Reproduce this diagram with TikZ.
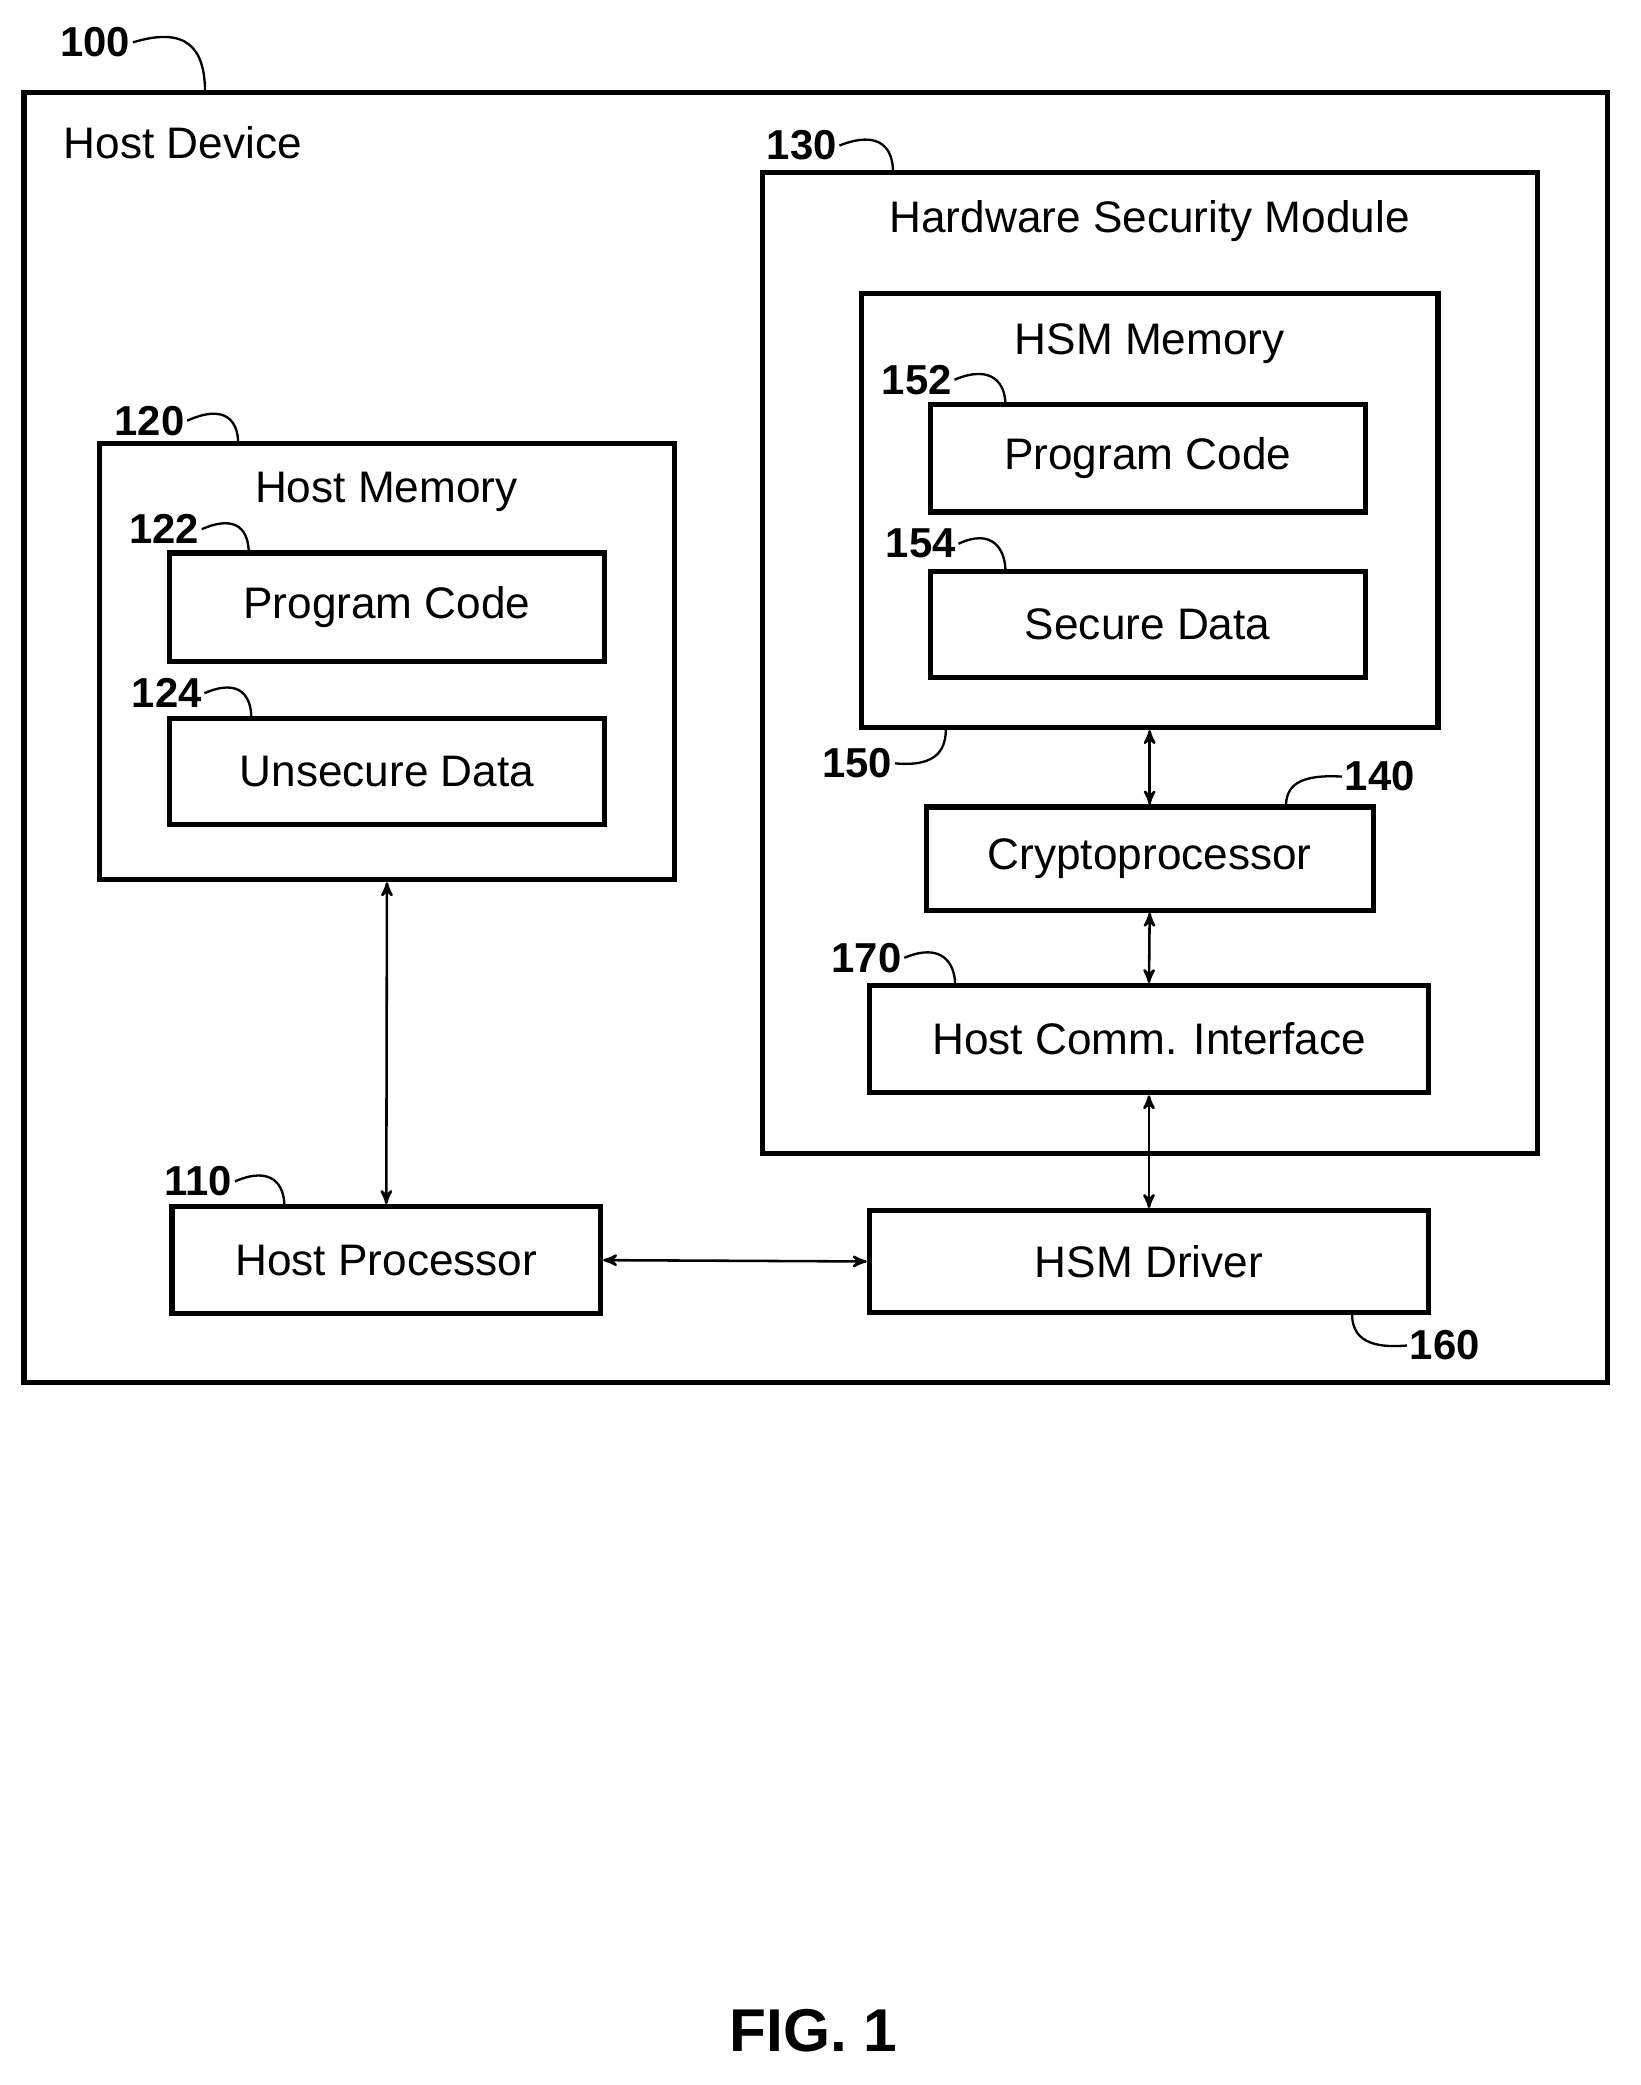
\documentclass[tikz,border=0pt]{standalone}
\usepackage{fontspec}
\setmainfont{Liberation Sans}
\usetikzlibrary{arrows}

\tikzset{
  box/.style={draw,line width=2.2pt,inner sep=0pt},
  txt/.style={font=\fontsize{19}{23}\selectfont},
  num/.style={font=\bfseries\fontsize{18}{22}\selectfont,inner sep=1pt},
  lead/.style={line width=1pt,-},
  link/.style={<->,>=stealth',line width=1.1pt}
}

\begin{document}
\begin{tikzpicture}[x=0.02cm,y=-0.02cm]
        \useasboundingbox (0,0) rectangle (1240,1576);

        % frames
        \node[box,minimum width=23.94cm,minimum height=19.5cm] (dev) at (616.5,557.5) {};
        \node[txt,anchor=west] (devlbl) at (42,108) {Host Device};
        \node[box,minimum width=8.7cm,minimum height=6.6cm] (hmem) at (292.5,500) {};
        \node[txt] (hmemlbl) at (292,372) {Host Memory};
        \node[box,minimum width=11.72cm,minimum height=14.84cm] (hsm) at (869,501) {};
        \node[txt] (hsmlbl) at (869,167) {Hardware Security Module};
        \node[box,minimum width=8.72cm,minimum height=6.56cm] (smem) at (869,386) {};
        \node[txt] (smemlbl) at (869,260) {HSM Memory};

        % blocks
        \node[box,txt,minimum width=6.58cm,minimum height=1.64cm] (code1) at (292.5,459) {Program Code};
        \node[box,txt,minimum width=6.58cm,minimum height=1.6cm] (udata) at (292.5,583) {Unsecure Data};
        \node[box,txt,minimum width=6.58cm,minimum height=1.62cm] (code2) at (867.5,346.5) {Program Code};
        \node[box,txt,minimum width=6.58cm,minimum height=1.6cm] (sdata) at (867.5,472) {Secure Data};
        \node[box,txt,minimum width=6.76cm,minimum height=1.56cm] (crypto) at (869,649) {Cryptoprocessor};
        \node[box,txt,minimum width=8.46cm,minimum height=1.62cm] (comm) at (868.5,785.5) {Host Comm. Interface};
        \node[box,txt,minimum width=6.48cm,minimum height=1.62cm] (hproc) at (292,952.5) {Host Processor};
        \node[box,txt,minimum width=8.46cm,minimum height=1.54cm] (drv) at (868.5,953.5) {HSM Driver};

        % links
        \draw[link] (smem.south) -- (crypto.north);
        \draw[link] (crypto.south) -- (comm.north);
        \draw[link] (comm.south) -- (drv.north);
        \draw[link] (hmem.south) -- (hproc.north);
        \draw[link] (hproc.east) -- (drv.west);

        % reference numerals
        \node[num] (n100) at (72,32) {100};
        \node[num] (n120) at (113,318) {120};
        \node[num] (n122) at (124,400) {122};
        \node[num] (n124) at (126,524) {124};
        \node[num] (n130) at (606,110) {130};
        \node[num] (n152) at (693,287) {152};
        \node[num] (n154) at (696,411) {154};
        \node[num] (n150) at (648,577) {150};
        \node[num] (n140) at (1043,587) {140};
        \node[num] (n170) at (655,724) {170};
        \node[num] (n110) at (150,893) {110};
        \node[num] (n160) at (1092,1017) {160};

        \draw[lead] (n100.east) .. controls (140,20) and (155,35) .. (155,70);
        \draw[lead] (n120.east) .. controls (170,305) and (180,318) .. (180,335);
        \draw[lead] (n122.east) .. controls (180,388) and (188,402) .. (188,418);
        \draw[lead] (n124.east) .. controls (182,512) and (190,527) .. (190,543);
        \draw[lead] (n130.east) .. controls (665,98) and (675,112) .. (675,130);
        \draw[lead] (n152.east) .. controls (750,275) and (760,290) .. (760,306);
        \draw[lead] (n154.east) .. controls (750,399) and (760,415) .. (760,432);
        \draw[lead] (n150.east) .. controls (710,580) and (715,565) .. (715,550);
        \draw[lead] (n140.west) .. controls (980,585) and (972,595) .. (972,610);
        \draw[lead] (n170.east) .. controls (712,712) and (722,728) .. (722,745);
        \draw[lead] (n110.east) .. controls (205,881) and (215,895) .. (215,912);
        \draw[lead] (n160.west) .. controls (1030,1020) and (1022,1008) .. (1022,993);

        \node[font=\bfseries\fontsize{26}{30}\selectfont] (fig) at (615,1535) {FIG. 1};
\end{tikzpicture}
\end{document}
